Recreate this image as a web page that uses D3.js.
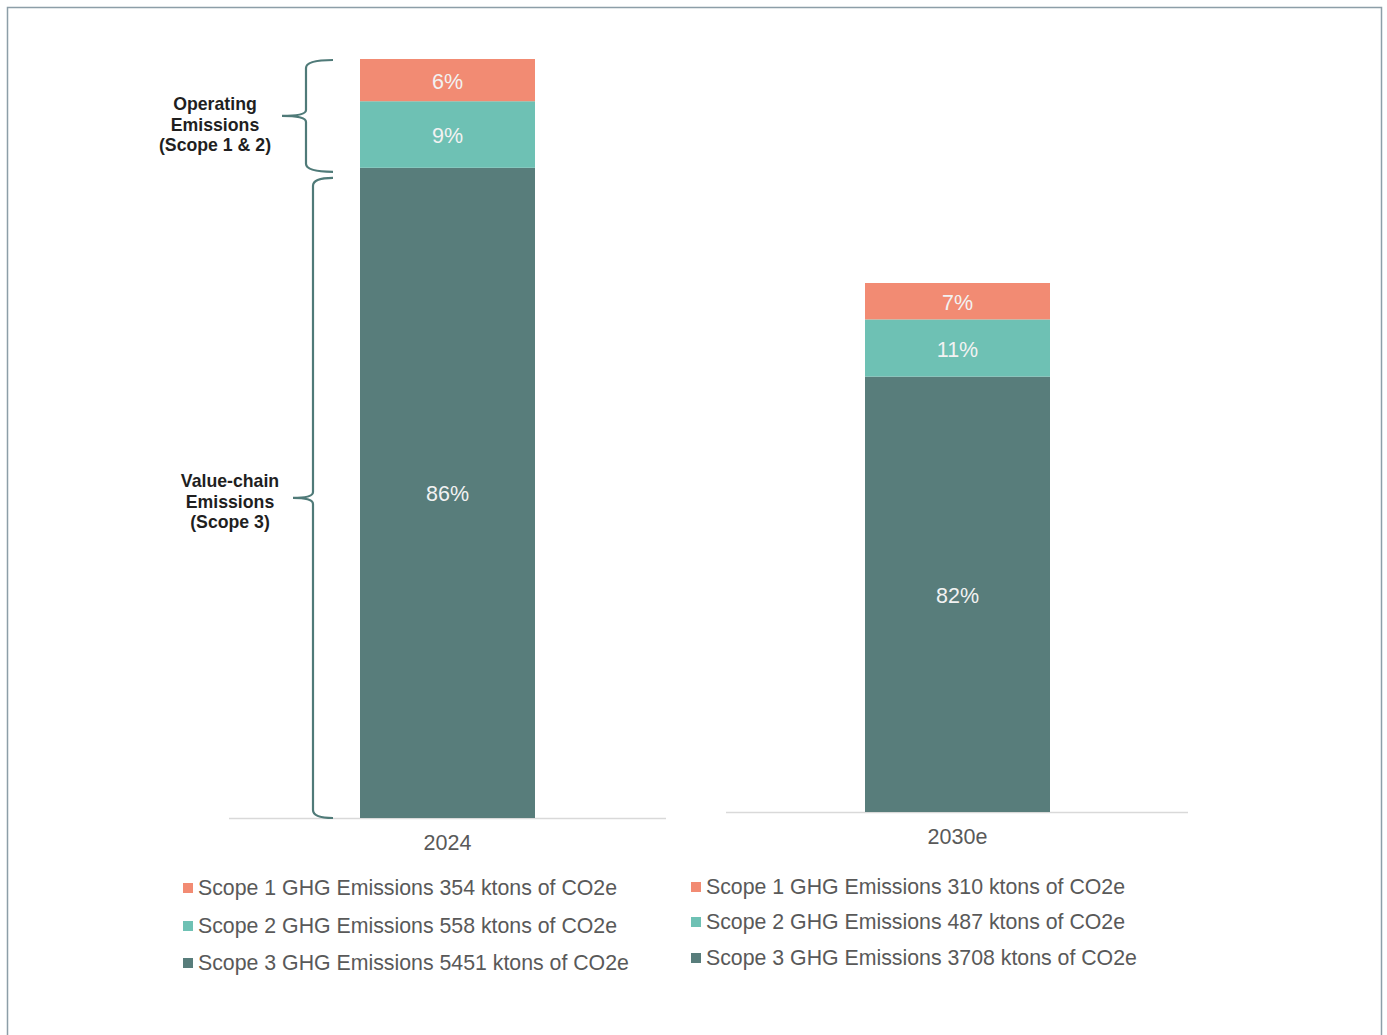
<!DOCTYPE html>
<html>
<head>
<meta charset="utf-8">
<script src="https://cdn.jsdelivr.net/npm/d3@7"></script>
<style>
  html, body { margin: 0; padding: 0; background: #fff; }
  svg { display: block; font-family: "Liberation Sans", Arial, sans-serif; }
</style>
</head>
<body>
<svg id="chart" width="1387" height="1035"></svg>
<script>
// ---- data ----
const categories = ["2024", "2030e"];
const seriesNames = ["Scope 1", "Scope 2", "Scope 3"];
const scope1 = [354, 310];
const scope2 = [558, 487];
const scope3 = [5451, 3708];
const colors = ["#F28B73", "#6EC1B4", "#587D7B"];

const svg = d3.select("#chart");

// frame
svg.append("path")
  .attr("d", "M7.5,1040 L7.5,7.5 L1381.5,7.5 L1381.5,1040")
  .attr("fill", "none").attr("stroke", "#8d9ea8").attr("stroke-width", 1.5);

// panel layout (each year drawn as its own small chart)
const panels = [
  { x0: 229, x1: 666, base: 818, top: 59, barL: 360, barR: 535, labelY: 850, legX: 183, legY: [888, 926, 963] },
  { x0: 726, x1: 1188, base: 812, top: 283, barL: 865, barR: 1050, labelY: 844, legX: 691, legY: [887, 922, 958] }
];

categories.forEach((cat, i) => {
  const p = panels[i];
  const vals = [scope1[i], scope2[i], scope3[i]];
  const total = d3.sum(vals);
  const y = d3.scaleLinear().domain([0, total]).range([p.base, p.top]);
  const x = d3.scaleBand().domain([cat]).range([p.barL, p.barR]).padding(0);

  // baseline
  svg.append("line")
    .attr("x1", p.x0).attr("x2", p.x1).attr("y1", p.base + 0.5).attr("y2", p.base + 0.5)
    .attr("stroke", "#d9d9d9").attr("stroke-width", 1.5);

  // stacked segments: scope3 at bottom, then scope2, scope1
  const order = [2, 1, 0];
  let cum = 0;
  const g = svg.append("g");
  order.forEach(k => {
    const v = vals[k];
    const y0 = y(cum), y1 = y(cum + v);
    g.append("rect")
      .attr("x", x(cat)).attr("width", x.bandwidth())
      .attr("y", y1).attr("height", y0 - y1)
      .attr("fill", colors[k]);
    g.append("text")
      .attr("x", x(cat) + x.bandwidth() / 2)
      .attr("y", (y0 + y1) / 2 + 1)
      .attr("dy", "0.35em")
      .attr("text-anchor", "middle")
      .attr("fill", "#f2f2f2")
      .attr("font-size", 21.5)
      .text(Math.round(v / total * 100) + "%");
    cum += v;
  });

  // category label
  svg.append("text")
    .attr("x", x(cat) + x.bandwidth() / 2).attr("y", p.labelY)
    .attr("text-anchor", "middle").attr("fill", "#595959").attr("font-size", 21.5)
    .text(cat);

  // legend
  seriesNames.forEach((s, k) => {
    const ly = p.legY[k];
    svg.append("rect")
      .attr("x", p.legX).attr("y", ly - 5).attr("width", 10).attr("height", 10)
      .attr("fill", colors[k]);
    svg.append("text")
      .attr("x", p.legX + 15).attr("y", ly).attr("dy", "0.35em")
      .attr("fill", "#595959").attr("font-size", 21.3)
      .text(s + " GHG Emissions " + vals[k] + " ktons of CO2e");
  });

  // braces and annotations for the 2024 bar
  if (i === 0) {
    const braceColor = "#4f7a78";
    function brace(yTop, yBot, xSpine, xTip, xEnd) {
      const r = 8;
      const yMid = (yTop + yBot) / 2;
      return `M${xEnd},${yTop} Q${xSpine},${yTop} ${xSpine},${yTop + r}` +
             ` L${xSpine},${yMid - 6} Q${xSpine},${yMid} ${xTip},${yMid}` +
             ` Q${xSpine},${yMid} ${xSpine},${yMid + 6}` +
             ` L${xSpine},${yBot - r} Q${xSpine},${yBot} ${xEnd},${yBot}`;
    }
    const yOpTop = y(total), yOpBot = y(scope3[i]);
    svg.append("path")
      .attr("d", brace(yOpTop + 1, yOpBot + 4, 306, 282, 333))
      .attr("fill", "none").attr("stroke", braceColor).attr("stroke-width", 2.2);
    svg.append("path")
      .attr("d", brace(yOpBot + 10, y(0), 313, 293, 333))
      .attr("fill", "none").attr("stroke", braceColor).attr("stroke-width", 2.2);

    const ann = [
      { lines: ["Operating", "Emissions", "(Scope 1 & 2)"], x: 215, y: 104 },
      { lines: ["Value-chain", "Emissions", "(Scope 3)"], x: 230, y: 481 }
    ];
    ann.forEach(a => {
      const t = svg.append("text")
        .attr("text-anchor", "middle").attr("font-size", 17.7).attr("font-weight", "bold")
        .attr("fill", "#1f1f1f");
      a.lines.forEach((ln, j) => {
        t.append("tspan").attr("x", a.x).attr("y", a.y + j * 20.5).attr("dy", "0.35em").text(ln);
      });
    });
  }
});
</script>
</body>
</html>
